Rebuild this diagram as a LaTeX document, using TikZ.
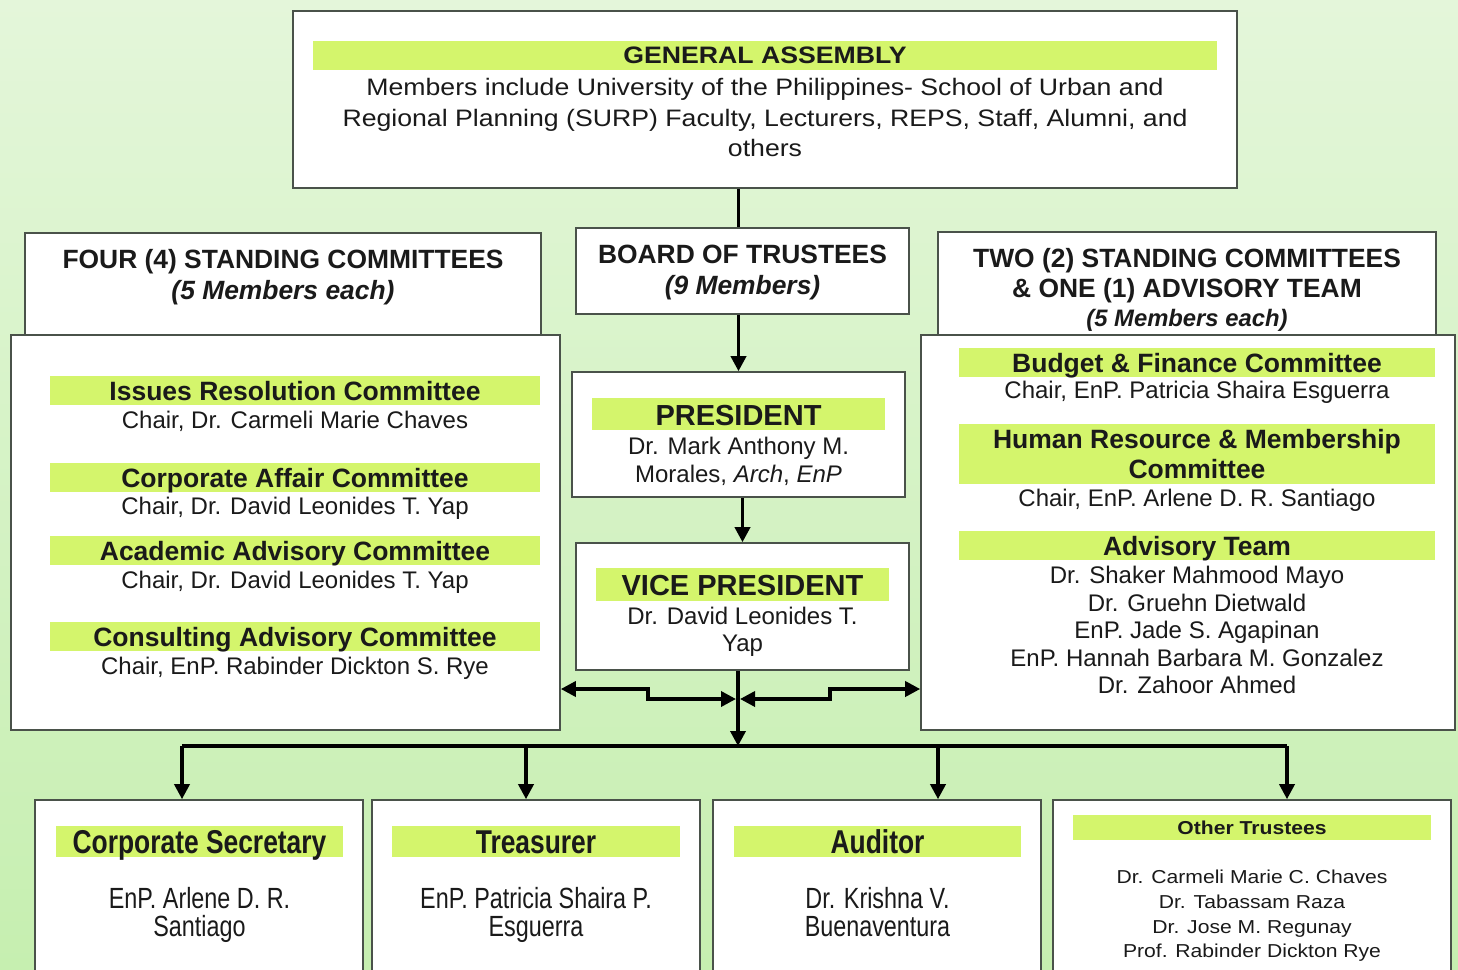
\documentclass[tikz,border=0pt]{standalone}
\usepackage{fontspec}
\setmainfont{Liberation Sans}
\newfontfamily\gafont[FakeStretch=1.12]{Liberation Sans}
\newfontfamily\narrowfont[FakeStretch=0.8]{Liberation Sans}
\newfontfamily\otfont[FakeStretch=1.13]{Liberation Sans}
\usetikzlibrary{arrows.meta,calc}
\definecolor{bgtop}{HTML}{E4F6DA}
\definecolor{bgbot}{HTML}{C6EFB0}
\definecolor{lime}{HTML}{D4F56C}
\definecolor{edge}{HTML}{4A524A}
\definecolor{ink}{HTML}{1A1A1A}
\begin{document}
\begin{tikzpicture}[x=1pt,y=-1pt,
  box/.style={draw=edge,line width=1.6pt,fill=white,inner sep=0pt},
  bar/.style={fill=lime,inner sep=0pt},
  txt/.style={anchor=base,inner sep=0pt,text=ink},
  gaf/.style={font=\gafont\fontsize{23.8}{28}\selectfont},
  hdr/.style={font=\bfseries\fontsize{26.4}{30}\selectfont},
  hdrs/.style={font=\bfseries\itshape\fontsize{23.8}{28}\selectfont},
  bart/.style={font=\bfseries\fontsize{26.5}{30}\selectfont},
  chair/.style={font=\fontsize{24}{28}\selectfont},
  bigt/.style={font=\bfseries\fontsize{29}{32}\selectfont},
  nt/.style={font=\narrowfont\bfseries\fontsize{33}{36}\selectfont},
  nn/.style={font=\narrowfont\fontsize{29.2}{32}\selectfont},
  otf/.style={font=\otfont\fontsize{18.7}{22}\selectfont},
  conn/.style={line width=3.5pt,black},
  arr/.style={conn,-{Triangle[length=15pt,width=15pt]}},
  dbl/.style={conn,{Triangle[length=15pt,width=15pt]}-{Triangle[length=15pt,width=15pt]}}
]
\useasboundingbox (0,0) rectangle (1458,969);
\clip (0,0) rectangle (1458,969);
\shade[top color=bgtop,bottom color=bgbot] (0,0) rectangle (1458,969);

% ---------- General assembly ----------
\node[box,minimum width=944pt,minimum height=177pt] (ga) at (765,99.5) {};
\node[bar,minimum width=904pt,minimum height=29pt] (gabar) at (765,55.5) {};
\node[txt,gaf,font=\gafont\bfseries\fontsize{23.8}{28}\selectfont] (gat) at (765,63.5) {GENERAL ASSEMBLY};
\node[txt,gaf] (ga1) at (765,95.5) {Members include University of the Philippines- School of Urban and};
\node[txt,gaf] (ga2) at (765,126) {Regional Planning (SURP) Faculty, Lecturers, REPS, Staff, Alumni, and};
\node[txt,gaf] (ga3) at (765,156.5) {others};

% ---------- Left committees ----------
\node[box,minimum width=516pt,minimum height=102pt] (lhead) at (283,284) {};
\node[txt,hdr] (lh1) at (283,268.5) {FOUR (4) STANDING COMMITTEES};
\node[txt,hdr,font=\bfseries\itshape\fontsize{26.4}{30}\selectfont] (lh2) at (283,299.5) {(5 Members each)};
\node[box,minimum width=549pt,minimum height=395pt] (lbox) at (285.5,532.5) {};
\node[bar,minimum width=490pt,minimum height=29pt] (lb1) at (295,390.5) {};
\node[bar,minimum width=490pt,minimum height=29pt] (lb2) at (295,477.5) {};
\node[bar,minimum width=490pt,minimum height=29pt] (lb3) at (295,550.5) {};
\node[bar,minimum width=490pt,minimum height=29pt] (lb4) at (295,636.5) {};
\node[txt,bart] (lt1) at (295,400.5) {Issues Resolution Committee};
\node[txt,chair] (lc1) at (295,428.6) {Chair, Dr. Carmeli Marie Chaves};
\node[txt,bart] (lt2) at (295,487.5) {Corporate Affair Committee};
\node[txt,chair] (lc2) at (295,514.6) {Chair, Dr. David Leonides T. Yap};
\node[txt,bart] (lt3) at (295,560.5) {Academic Advisory Committee};
\node[txt,chair] (lc3) at (295,588.6) {Chair, Dr. David Leonides T. Yap};
\node[txt,bart] (lt4) at (295,646.5) {Consulting Advisory Committee};
\node[txt,chair] (lc4) at (295,674.6) {Chair, EnP. Rabinder Dickton S. Rye};

% ---------- Centre column ----------
\node[box,minimum width=333pt,minimum height=86pt] (bot) at (742.5,271) {};
\node[txt,hdr] (bot1) at (742.5,263.5) {BOARD OF TRUSTEES};
\node[txt,hdr,font=\bfseries\itshape\fontsize{26.4}{30}\selectfont] (bot2) at (742.5,294.5) {(9 Members)};

\node[box,minimum width=333pt,minimum height=125pt] (pres) at (738.5,434.5) {};
\node[bar,minimum width=293pt,minimum height=32pt] (presbar) at (738.5,414) {};
\node[txt,bigt] (prest) at (738.5,425.4) {PRESIDENT};
\node[txt,chair] (pres1) at (738.5,454.6) {Dr. Mark Anthony M.};
\node[txt,chair] (pres2) at (738.5,482.6) {Morales, \textit{Arch}, \textit{EnP}};

\node[box,minimum width=333pt,minimum height=127pt] (vp) at (742.5,606.5) {};
\node[bar,minimum width=293pt,minimum height=33pt] (vpbar) at (742.5,584.5) {};
\node[txt,bigt] (vpt) at (742.5,595.4) {VICE PRESIDENT};
\node[txt,chair] (vp1) at (742.5,624.6) {Dr. David Leonides T.};
\node[txt,chair] (vp2) at (742.5,651.6) {Yap};

% ---------- Right committees ----------
\node[box,minimum width=498pt,minimum height=103pt] (rhead) at (1187,283.5) {};
\node[txt,hdr] (rh1) at (1187,267.5) {TWO (2) STANDING COMMITTEES};
\node[txt,hdr] (rh2) at (1187,297.5) {\& ONE (1) ADVISORY TEAM};
\node[txt,hdrs] (rh3) at (1187,326.5) {(5 Members each)};
\node[box,minimum width=534pt,minimum height=395pt] (rbox) at (1188,532.5) {};
\node[bar,minimum width=476pt,minimum height=29pt] (rb1) at (1197,362.5) {};
\node[bar,minimum width=476pt,minimum height=60pt] (rb2) at (1197,454) {};
\node[bar,minimum width=476pt,minimum height=29pt] (rb3) at (1197,545.5) {};
\node[txt,bart] (rt1) at (1197,372.5) {Budget \& Finance Committee};
\node[txt,chair] (rc1) at (1197,398.6) {Chair, EnP. Patricia Shaira Esguerra};
\node[txt,bart] (rt2a) at (1197,448.5) {Human Resource \& Membership};
\node[txt,bart] (rt2b) at (1197,478.5) {Committee};
\node[txt,chair] (rc2) at (1197,506.6) {Chair, EnP. Arlene D. R. Santiago};
\node[txt,bart] (rt3) at (1197,555.5) {Advisory Team};
\node[txt,chair] (ra1) at (1197,583.6) {Dr. Shaker Mahmood Mayo};
\node[txt,chair] (ra2) at (1197,611.6) {Dr. Gruehn Dietwald};
\node[txt,chair] (ra3) at (1197,638.6) {EnP. Jade S. Agapinan};
\node[txt,chair] (ra4) at (1197,666.6) {EnP. Hannah Barbara M. Gonzalez};
\node[txt,chair] (ra5) at (1197,693.6) {Dr. Zahoor Ahmed};

% ---------- Bottom row ----------
\node[box,minimum width=328pt,minimum height=180pt] (cs) at (199,890) {};
\node[bar,minimum width=287pt,minimum height=31pt] (csbar) at (199.5,841.5) {};
\node[txt,nt] (cst) at (199.5,853.8) {Corporate Secretary};
\node[txt,nn] (cs1) at (199.5,908.5) {EnP. Arlene D. R.};
\node[txt,nn] (cs2) at (199.5,936.5) {Santiago};

\node[box,minimum width=328pt,minimum height=180pt] (tr) at (536,890) {};
\node[bar,minimum width=288pt,minimum height=31pt] (trbar) at (536,841.5) {};
\node[txt,nt] (trt) at (536,853.8) {Treasurer};
\node[txt,nn] (tr1) at (536,908.5) {EnP. Patricia Shaira P.};
\node[txt,nn] (tr2) at (536,936.5) {Esguerra};

\node[box,minimum width=328pt,minimum height=180pt] (au) at (877,890) {};
\node[bar,minimum width=287pt,minimum height=31pt] (aubar) at (877.5,841.5) {};
\node[txt,nt] (aut) at (877.5,853.8) {Auditor};
\node[txt,nn] (au1) at (877.5,908.5) {Dr. Krishna V.};
\node[txt,nn] (au2) at (877.5,936.5) {Buenaventura};

\node[box,minimum width=398pt,minimum height=180pt] (ot) at (1252,890) {};
\node[bar,minimum width=358pt,minimum height=25pt] (otbar) at (1252,827.5) {};
\node[txt,otf,font=\otfont\bfseries\fontsize{18.7}{22}\selectfont] (ott) at (1252,834.7) {Other Trustees};
\node[txt,otf] (ot1) at (1252,883.7) {Dr. Carmeli Marie C. Chaves};
\node[txt,otf] (ot2) at (1252,908.7) {Dr. Tabassam Raza};
\node[txt,otf] (ot3) at (1252,933.7) {Dr. Jose M. Regunay};
\node[txt,otf] (ot4) at (1252,957.7) {Prof. Rabinder Dickton Rye};

% ---------- Connectors ----------
\coordinate (bus) at (738,746);
\coordinate (busL) at (182,746);
\coordinate (busR) at (1287,746);
\coordinate (dTr) at (526,746);
\coordinate (dAu) at (938,746);
\coordinate (yL) at (0,689);
\coordinate (yLo) at (0,699);
\coordinate (kL) at (648,0);
\coordinate (kR) at (830,0);
\coordinate (mL) at (736,699);
\coordinate (mR) at (740,699);

\draw[conn] (ga.south -| pres) -- (bot.north -| pres);
\draw[arr] (bot.south -| pres) -- (pres.north);
\draw[arr] (pres.south -| vp) -- (vp.north);
\draw[arr] (vp.south -| bus) -- (bus);
\draw[conn] (busL) -- (busR);
\draw[arr] (busL) -- (cs.north -| busL);
\draw[arr] (dTr) -- (tr.north -| dTr);
\draw[arr] (dAu) -- (au.north -| dAu);
\draw[arr] (busR) -- (ot.north -| busR);
\draw[dbl] (lbox.east |- yL) -- (kL |- yL) -- (kL |- yLo) -- (mL);
\draw[dbl] (mR) -- (kR |- yLo) -- (kR |- yL) -- (rbox.west |- yL);
\end{tikzpicture}
\end{document}
